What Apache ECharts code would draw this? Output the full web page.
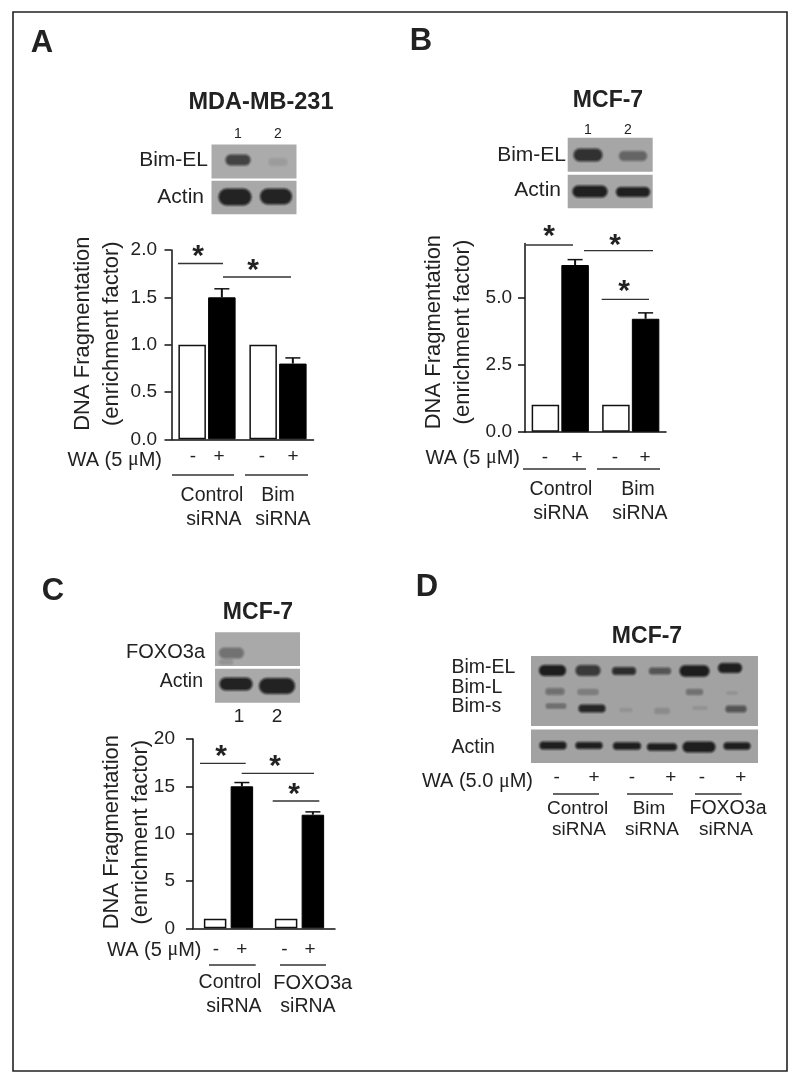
<!DOCTYPE html>
<html><head><meta charset="utf-8">
<script src="https://cdn.jsdelivr.net/npm/echarts@6/dist/echarts.min.js"></script>
<style>html,body{margin:0;padding:0;background:#fff}#c{width:800px;height:1080px}</style></head>
<body><div id="c"></div>
<script>
// ---- data ----
const categoriesA = ['Control siRNA', 'Bim siRNA'];
const withoutWA_A = [1.0, 1.0];
const withWA_A = [1.5, 0.8];
const errorTopA = [1.59, 0.86];
const ticksA = [0, 0.5, 1.0, 1.5, 2.0];

const categoriesB = ['Control siRNA', 'Bim siRNA'];
const withoutWA_B = [1.0, 1.0];
const withWA_B = [6.2, 4.2];
const errorTopB = [6.4, 4.42];
const ticksB = [0, 2.5, 5.0];

const categoriesC = ['Control siRNA', 'FOXO3a siRNA'];
const withoutWA_C = [1.0, 1.0];
const withWA_C = [15, 12];
const errorTopC = [15.4, 12.3];
const ticksC = [0, 5, 10, 15, 20];

const yTitle = 'DNA Fragmentation\n(enrichment factor)';
const FONT = '"Liberation Sans", Arial, sans-serif';
const INK = '#222';

// ---- charts ----
const panels = [
  {cats: categoriesA, neg: withoutWA_A, pos: withWA_A, err: errorTopA, ticks: ticksA, max: 2, digits: 1,
   left: 171.5, top: 250, w: 142, h: 189.3, barW: 27.5, gap: '8%', fs: 19, nameGap: 45, shift: 22, margin: 14.5},
  {cats: categoriesB, neg: withoutWA_B, pos: withWA_B, err: errorTopB, ticks: ticksB, max: 7, digits: 1,
   left: 525, top: 243.5, w: 141, h: 188.2, barW: 27.5, gap: '8%', fs: 19, nameGap: 48, shift: 11, margin: 13},
  {cats: categoriesC, neg: withoutWA_C, pos: withWA_C, err: errorTopC, ticks: ticksC, max: 20, digits: 0,
   left: 193, top: 739, w: 142, h: 189.3, barW: 22.5, gap: '19%', fs: 19, nameGap: 38, shift: 3, margin: 18}
];

const grid = [], xAxis = [], yAxis = [], series = [];
panels.forEach((p, i) => {
  grid.push({left: p.left, top: p.top, width: p.w, height: p.h, containLabel: false});
  xAxis.push({type: 'category', gridIndex: i, data: p.cats,
    axisLine: {lineStyle: {color: '#111', width: 1.5}}, axisTick: {show: false}, axisLabel: {show: false}});
  yAxis.push({type: 'value', gridIndex: i, min: 0, max: p.max,
    name: yTitle, nameLocation: 'middle', nameRotate: 90, nameGap: p.nameGap, nameMoveOverlap: false,
    nameTextStyle: {fontFamily: FONT, fontSize: 22, lineHeight: 29, color: INK, padding: [0, 0, 0, p.shift]},
    axisLine: {show: true, lineStyle: {color: '#111', width: 1.5}},
    axisTick: {show: true, length: 7, customValues: p.ticks, lineStyle: {color: '#111', width: 1.5}},
    axisLabel: {customValues: p.ticks, margin: p.margin, fontFamily: FONT, fontSize: p.fs, color: INK,
      formatter: v => v.toFixed(p.digits)},
    splitLine: {show: false}});
  const barBase = {type: 'bar', xAxisIndex: i, yAxisIndex: i, barWidth: p.barW, barGap: p.gap, silent: true};
  series.push(Object.assign({}, barBase, {name: 'WA -', data: p.neg,
    itemStyle: {color: '#fff', borderColor: '#111', borderWidth: 1.5}}));
  series.push(Object.assign({}, barBase, {name: 'WA +', data: p.pos,
    itemStyle: {color: '#000', borderColor: '#000', borderWidth: 1}}));
  series.push({type: 'custom', xAxisIndex: i, yAxisIndex: i, silent: true, z: 1,
    data: p.cats.map((c, k) => [k, p.pos[k], p.err[k]]),
    renderItem: (params, api) => {
      const k = api.value(0);
      const layout = api.barLayout({count: 2, barWidth: p.barW, barGap: p.gap});
      const base = api.coord([k, api.value(1)]);
      const topP = api.coord([k, api.value(2)]);
      const x = base[0] + layout[1].offsetCenter;
      const cap = 7.5;
      return {type: 'group', children: [
        {type: 'line', shape: {x1: x, y1: base[1], x2: x, y2: topP[1]}, style: {stroke: '#111', lineWidth: 2}},
        {type: 'line', shape: {x1: x - cap, y1: topP[1], x2: x + cap, y2: topP[1]}, style: {stroke: '#111', lineWidth: 1.5}}
      ]};
    }});
});

// ---- annotation helpers ----
const g = [];
function T(text, x, y, size, align, weight, extra) {
  const rich = {mu: {fontFamily: '"Liberation Serif", serif', fontSize: size, fill: INK}};
  g.push(Object.assign({type: 'text', x, y, silent: true, z: 10, style: {
    text, fontFamily: FONT, fontSize: size, fontWeight: weight || 'normal', fill: INK,
    align: align || 'center', verticalAlign: 'middle', rich}}, extra || {}));
}
function L(x1, y1, x2, y2, w, col) {
  g.push({type: 'line', silent: true, z: 9, shape: {x1, y1, x2, y2}, style: {stroke: col || '#333', lineWidth: w || 1.3}});
}
function blotBg(x, y, w, h, c) {
  g.push({type: 'rect', silent: true, z: 2, shape: {x, y, width: w, height: h}, style: {fill: c || '#a9a9a9'}});
}
// a soft-edged film band: stacked translucent pills whose combined darkness ramps up evenly towards the core
function band(cx, cy, w, h, d) {
  const n = 9, step = Math.min(h * 0.44, 4.5) / n, peak = Math.min(d, 0.97);
  let prev = 0;
  for (let k = 0; k < n; k++) {
    const target = peak * Math.min(1, (k + 1) / (n * 0.8));
    const a = 1 - (1 - target) / (1 - prev);
    prev = target;
    if (a <= 0) continue;
    const ww = w - 2 * k * step, hh = h - 2 * k * step;
    g.push({type: 'rect', silent: true, z: 3,
      shape: {x: cx - ww / 2, y: cy - hh / 2, width: ww, height: hh, r: hh / 2},
      style: {fill: `rgba(25,25,25,${a})`}});
  }
}
const star = (x, y) => T('*', x, y + 4, 30, 'center', 'bold');

// frame
g.push({type: 'rect', silent: true, z: 1, shape: {x: 13, y: 12, width: 774, height: 1059},
  style: {fill: 'none', stroke: '#222', lineWidth: 1.6}});

// panel letters
T('A', 42, 43, 31, 'center', 'bold'); T('B', 421, 41, 31, 'center', 'bold');
T('C', 53, 591, 31, 'center', 'bold'); T('D', 427, 587, 31, 'center', 'bold');

// --- Panel A
T('MDA-MB-231', 261, 103, 23.5, 'center', 'bold');
T('1', 238, 134, 14); T('2', 278, 134, 14);
T('Bim-EL', 208, 160.5, 21, 'right'); T('Actin', 204, 197, 21, 'right');
blotBg(211.5, 144.5, 85, 34, '#ababab'); blotBg(211.5, 180.8, 85, 33.5, '#a8a8a8');
band(238, 160, 28, 14, .7); band(278, 162, 22, 11, .08);
band(235, 197, 36, 20, .92); band(276, 196.5, 35, 19, .92);
star(198, 253); star(253, 267);
L(178, 263.5, 223, 263.5); L(223, 277, 291, 277);
T('WA (5 {mu|μ}M)', 162, 460, 20, 'right');
T('-', 193, 457, 19); T('+', 219, 457, 19); T('-', 262, 457, 19); T('+', 293, 457, 19);
L(172, 475, 234, 475); L(245, 475, 308, 475);
T('Control', 212, 496, 19.5); T('siRNA', 214, 520, 19.5); T('Bim', 278, 496, 19.5); T('siRNA', 283, 520, 19.5);

// --- Panel B
T('MCF-7', 608, 101, 23, 'center', 'bold');
T('1', 588, 130, 14); T('2', 628, 130, 14);
T('Bim-EL', 566, 155.5, 21, 'right'); T('Actin', 561, 190, 21, 'right');
blotBg(567.7, 137.7, 85, 34, '#a6a6a6'); blotBg(567.7, 174.7, 85, 33.6, '#a6a6a6');
band(588, 155, 32, 16, .82); band(633, 156, 31, 13, .45);
band(590, 191.5, 38, 15, .95); band(633, 192, 37, 13, .95);
star(549, 233); star(615, 241.5); star(624, 288);
L(525.7, 245, 573, 245); L(584, 250.7, 653, 250.7); L(601.7, 299.3, 649, 299.3);
T('WA (5 {mu|μ}M)', 520, 458, 20, 'right');
T('-', 545, 458, 19); T('+', 577, 458, 19); T('-', 615, 458, 19); T('+', 645, 458, 19);
L(523, 469, 586, 469); L(597, 469, 660, 469);
T('Control', 561, 490, 19.5); T('siRNA', 561, 514, 19.5); T('Bim', 638, 490, 19.5); T('siRNA', 640, 514, 19.5);

// --- Panel C
T('MCF-7', 258, 612.5, 23, 'center', 'bold');
T('1', 239, 716.5, 19); T('2', 277, 716.5, 19);
T('FOXO3a', 205, 652, 20, 'right'); T('Actin', 203, 682, 19.5, 'right');
blotBg(215, 632.3, 85, 33.7, '#a9a9a9'); blotBg(215, 668.7, 85, 34, '#a9a9a9');
band(231.5, 653, 28, 14, .35); band(226, 662, 17, 8, .1);
band(236, 684, 36, 16, .93); band(277, 686, 39, 19, .93);
star(221, 753); star(275, 763); star(294, 791);
L(200, 763.3, 245.7, 763.3); L(241.7, 773.3, 314, 773.3); L(272.7, 801, 319.3, 801);
T('WA (5 {mu|μ}M)', 201.5, 950, 20, 'right');
T('-', 216, 950, 19); T('+', 241.7, 950, 19); T('-', 284.3, 950, 19); T('+', 310, 950, 19);
L(209, 965, 255.7, 965); L(280, 965, 326, 965);
T('Control', 230, 983, 19.5); T('siRNA', 234, 1007, 19.5); T('FOXO3a', 312.7, 983, 20); T('siRNA', 308, 1007, 19.5);

// --- Panel D
T('MCF-7', 647, 637, 23, 'center', 'bold');
T('Bim-EL', 451.5, 668, 19.5, 'left'); T('Bim-L', 451.5, 688, 19.5, 'left'); T('Bim-s', 451.5, 707, 19.5, 'left');
T('Actin', 451.5, 747.5, 19.5, 'left');
blotBg(531, 656, 227, 70, '#a2a2a2'); blotBg(531, 729.5, 227, 33.5, '#a2a2a2');
band(552.5, 670.5, 30, 14, .97); band(588, 670.5, 28, 14, .75); band(624, 671, 27, 11, .85);
band(660, 671, 25, 10, .55); band(694.5, 671, 33, 14.5, .97); band(730, 668, 27, 13, .95);
band(555, 691.5, 22, 10, .34); band(588, 692, 24, 9, .24); band(694.5, 692, 20, 9, .32); band(732, 693, 14, 6, .05);
band(556, 706, 23, 8, .34); band(592, 708.5, 30, 11, .9); band(626, 710, 15, 6, .08); band(662, 711, 18, 9, .17);
band(700, 708, 17, 6, .09); band(736, 709, 24, 10, .55);
band(553, 745.5, 30, 11, .96); band(589, 745.5, 30, 10, .96); band(627, 746, 31, 10.5, .96);
band(662, 747, 33, 10.5, .96); band(699, 747, 36, 14, .96); band(737, 746, 30, 10.5, .96);
T('WA (5.0 {mu|μ}M)', 533, 781.5, 20, 'right');
[[556.7, '-'], [594, '+'], [632, '-'], [670.7, '+'], [702, '-'], [740.7, '+']].forEach(m => T(m[1], m[0], 777.5, 19));
L(553, 794, 599, 794); L(627, 794, 673, 794); L(695, 794, 741.7, 794);
T('Control', 577.7, 809, 19); T('siRNA', 579, 830, 19); T('Bim', 649, 809, 19); T('siRNA', 652, 830, 19);
T('FOXO3a', 728, 809, 19.5); T('siRNA', 726, 830, 19);

const chart = echarts.init(document.getElementById('c'), null, {renderer: 'canvas'});
chart.setOption({animation: false, backgroundColor: '#fff', grid, xAxis, yAxis, series, graphic: {elements: g}});
</script></body></html>
